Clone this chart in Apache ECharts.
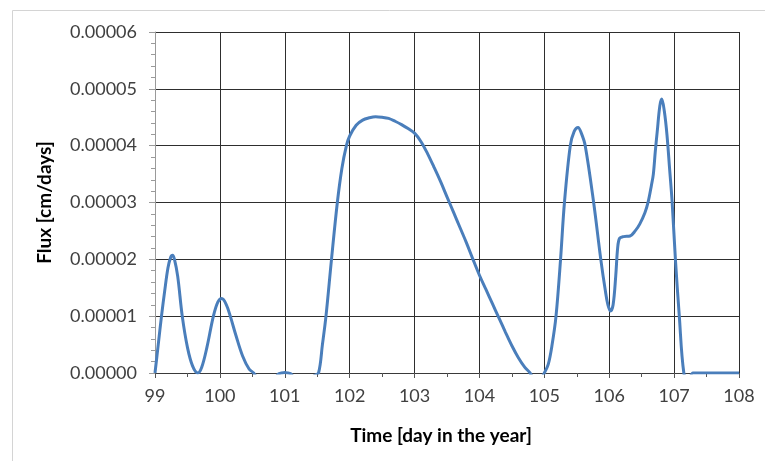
<!DOCTYPE html>
<html>
<head>
<meta charset="utf-8">
<script src="https://cdn.jsdelivr.net/npm/echarts@6/dist/echarts.min.js"></script>
<style>
  html, body { margin: 0; padding: 0; background: #ffffff; }
  #chart { width: 765px; height: 461px; }
</style>
</head>
<body>
<div id="chart"></div>
<script>
// Time axis (day in the year) and flux values [cm/days].
// Values slightly below zero are clipped at the axis floor.
var days = [
  99.00, 99.05, 99.10, 99.15, 99.20, 99.24, 99.27, 99.30, 99.35, 99.42, 99.50, 99.58, 99.66,
  99.72, 99.80, 99.90, 99.97, 100.03, 100.10, 100.16, 100.25, 100.35, 100.45, 100.52,
  100.70, 100.90, 100.95, 101.00, 101.05, 101.10, 101.25, 101.45, 101.52,
  101.58, 101.635, 101.72, 101.81, 101.88, 101.95, 102.00, 102.10, 102.20, 102.30, 102.40,
  102.50, 102.60, 102.70, 102.80, 102.90, 103.00, 103.10, 103.20, 103.30, 103.40, 103.50,
  103.60, 103.70, 103.80, 103.90, 104.00, 104.10, 104.20, 104.30, 104.40, 104.50, 104.60,
  104.70, 104.78, 104.89, 105.00,
  105.06, 105.12, 105.18, 105.25, 105.31, 105.40, 105.46, 105.52, 105.57, 105.63, 105.76,
  105.87, 105.94, 105.98, 106.02, 106.06, 106.10, 106.13, 106.16, 106.22, 106.32, 106.40,
  106.47, 106.55, 106.60, 106.65, 106.68, 106.71, 106.74, 106.78, 106.81, 106.85, 106.89,
  106.93, 106.97, 107.02, 107.08, 107.15, 107.22, 107.29, 107.50, 107.75, 108.00
];
var flux = [
  0, 0.50e-5, 1.00e-5, 1.45e-5, 1.85e-5, 2.03e-5, 2.07e-5, 2.00e-5, 1.70e-5, 1.00e-5, 0.45e-5, 0.12e-5, 0,
  0.10e-5, 0.45e-5, 1.00e-5, 1.25e-5, 1.31e-5, 1.20e-5, 1.00e-5, 0.65e-5, 0.30e-5, 0.07e-5, 0,
  -0.30e-5, -0.02e-5, 0, 0.01e-5, 0, -0.02e-5, -0.30e-5, -0.05e-5, 0,
  0.50e-5, 1.00e-5, 2.00e-5, 3.00e-5, 3.60e-5, 4.00e-5, 4.17e-5, 4.36e-5, 4.45e-5, 4.49e-5, 4.51e-5,
  4.50e-5, 4.48e-5, 4.43e-5, 4.37e-5, 4.30e-5, 4.22e-5, 4.07e-5, 3.86e-5, 3.62e-5, 3.37e-5, 3.10e-5,
  2.83e-5, 2.56e-5, 2.29e-5, 2.00e-5, 1.72e-5, 1.47e-5, 1.22e-5, 0.97e-5, 0.72e-5, 0.48e-5, 0.27e-5,
  0.10e-5, 0, -0.20e-5, 0,
  0.15e-5, 0.50e-5, 1.00e-5, 2.00e-5, 3.00e-5, 4.00e-5, 4.25e-5, 4.32e-5, 4.22e-5, 4.00e-5, 3.00e-5,
  2.00e-5, 1.45e-5, 1.20e-5, 1.09e-5, 1.20e-5, 1.70e-5, 2.20e-5, 2.37e-5, 2.40e-5, 2.41e-5, 2.50e-5,
  2.62e-5, 2.82e-5, 3.01e-5, 3.30e-5, 3.50e-5, 3.90e-5, 4.25e-5, 4.70e-5, 4.82e-5, 4.60e-5, 4.19e-5,
  3.60e-5, 3.00e-5, 2.00e-5, 1.00e-5, 0, -0.15e-5, 0, 0, 0, 0
];

var xMin = 99, xMax = 108, xStep = 1;
var yMin = 0, yMax = 0.00006, yStep = 0.00001;

var xTitle = 'Time [day in the year]';
var yTitle = 'Flux [cm/days]';

var points = days.map(function (d, i) { return [d, flux[i]]; });

var labelFont = 'Lato, "Open Sans", sans-serif';

var chart = echarts.init(document.getElementById('chart'), null, { renderer: 'canvas' });
chart.setOption({
  backgroundColor: '#ffffff',
  animation: false,
  graphic: [{
    type: 'rect',
    shape: { x: 12.5, y: 10.5, width: 800, height: 500 },
    style: { fill: 'none', stroke: '#d4d4d4', lineWidth: 1 },
    silent: true
  }],
  grid: { left: 155, right: 26, top: 32, bottom: 88, containLabel: false },
  xAxis: {
    type: 'value',
    min: xMin, max: xMax, interval: xStep,
    name: xTitle,
    nameLocation: 'middle',
    nameGap: 53,
    nameTextStyle: {
      fontFamily: labelFont, fontWeight: 'bold', fontSize: 19, color: '#000000',
      padding: [0, 12, 0, 0]
    },
    axisLine: { show: true, onZero: false, lineStyle: { color: '#3a3a3a', width: 1 } },
    axisTick: { show: true, inside: false, length: 5, lineStyle: { color: '#555555' } },
    minorTick: { show: true, splitNumber: 2, length: 4, lineStyle: { color: '#555555' } },
    axisLabel: { margin: 14, fontFamily: labelFont, fontSize: 18, color: '#404040' },
    splitLine: { show: true, lineStyle: { color: '#2e2e2e', width: 1 } }
  },
  yAxis: {
    type: 'value',
    min: yMin, max: yMax, interval: yStep,
    name: yTitle,
    nameLocation: 'middle',
    nameGap: 101,
    nameRotate: 90,
    nameTextStyle: { fontFamily: labelFont, fontWeight: 'bold', fontSize: 19, color: '#000000' },
    axisLine: { show: true, lineStyle: { color: '#9a9a9a', width: 1 } },
    axisTick: { show: true, inside: false, length: 6, lineStyle: { color: '#9a9a9a' } },
    minorTick: { show: true, splitNumber: 5, length: 4, lineStyle: { color: '#9a9a9a' } },
    axisLabel: {
      margin: 18, fontFamily: labelFont, fontSize: 18, color: '#404040',
      formatter: function (v) { return v.toFixed(5); }
    },
    splitLine: { show: true, lineStyle: { color: '#2e2e2e', width: 1 } }
  },
  series: [{
    type: 'line',
    data: points,
    smooth: 0.35,
    showSymbol: false,
    clip: true,
    lineStyle: { color: '#4A7EBB', width: 3 },
    z: 5
  }]
});
</script>
</body>
</html>
